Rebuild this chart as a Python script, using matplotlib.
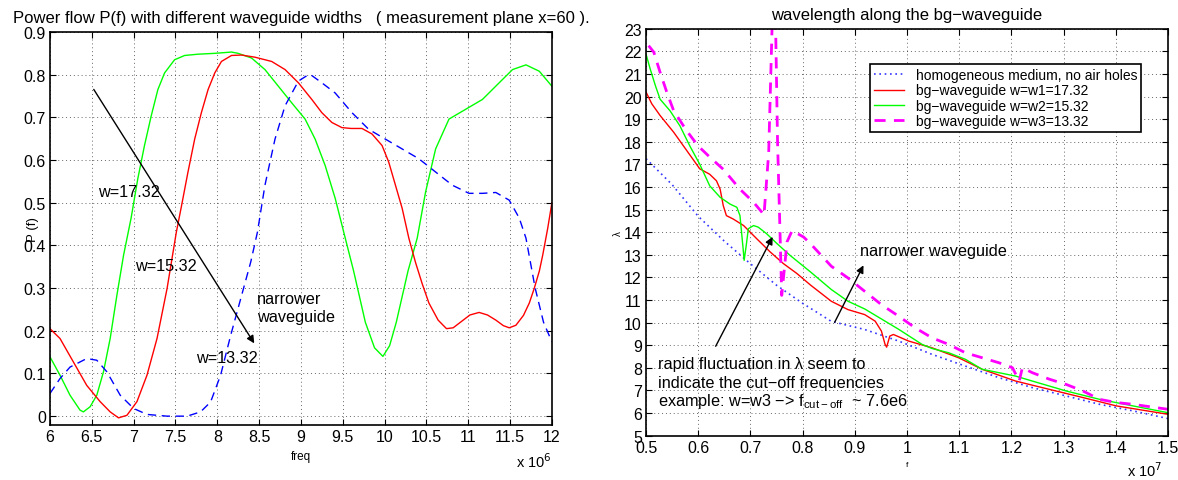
import matplotlib
matplotlib.use('Agg')
import matplotlib.pyplot as plt
import numpy as np
from matplotlib.ticker import FormatStrFormatter, MultipleLocator

# ---- left panel: power flow P(f), freq in units of 1e6 ----
red_f = [6.0, 6.12, 6.28, 6.44, 6.6, 6.72, 6.82, 6.92, 7.04, 7.16, 7.28, 7.4, 7.51, 7.57,
         7.65, 7.73, 7.81, 7.89, 7.97, 8.05, 8.17, 8.29, 8.45, 8.65, 8.81, 8.97, 9.13, 9.25,
         9.37, 9.49, 9.6, 9.73, 9.85, 9.97, 10.05, 10.13, 10.21, 10.29, 10.37, 10.45, 10.53,
         10.64, 10.74, 10.82, 10.92, 11.02, 11.13, 11.23, 11.33, 11.42, 11.49, 11.57, 11.66,
         11.73, 11.79, 11.85, 11.89, 11.95, 12.0]
red_p = [0.205, 0.182, 0.127, 0.072, 0.034, 0.01, -0.004, 0.002, 0.034, 0.096, 0.182, 0.299, 0.43, 0.49,
         0.572, 0.649, 0.711, 0.765, 0.804, 0.831, 0.845, 0.846, 0.841, 0.831, 0.812, 0.781, 0.742, 0.711,
         0.688, 0.676, 0.674, 0.674, 0.661, 0.634, 0.595, 0.541, 0.487, 0.417, 0.36, 0.31, 0.265,
         0.225, 0.205, 0.207, 0.222, 0.237, 0.243, 0.237, 0.225, 0.212, 0.207, 0.213, 0.236,
         0.265, 0.3, 0.34, 0.377, 0.44, 0.5]

green_f = [6.0, 6.12, 6.24, 6.36, 6.4, 6.48, 6.56, 6.64, 6.72, 6.8, 6.88, 6.97, 7.05, 7.13,
           7.21, 7.29, 7.37, 7.49, 7.61, 7.77, 7.97, 8.17, 8.25, 8.41, 8.57, 8.73, 8.89, 9.05,
           9.17, 9.29, 9.41, 9.53, 9.63, 9.77, 9.88, 9.98, 10.06, 10.14, 10.28, 10.39, 10.49,
           10.61, 10.77, 10.97, 11.17, 11.37, 11.53, 11.69, 11.85, 12.0]
green_p = [0.139, 0.096, 0.049, 0.014, 0.01, 0.022, 0.049, 0.104, 0.182, 0.283, 0.377, 0.464, 0.556, 0.634,
           0.703, 0.765, 0.804, 0.835, 0.845, 0.848, 0.85, 0.853, 0.85, 0.839, 0.812, 0.773, 0.734, 0.696,
           0.649, 0.587, 0.51, 0.417, 0.34, 0.22, 0.16, 0.14, 0.165, 0.22, 0.34, 0.417, 0.525,
           0.626, 0.696, 0.719, 0.742, 0.781, 0.812, 0.823, 0.808, 0.773]

blue_f = [6.0, 6.12, 6.24, 6.44, 6.56, 6.68, 6.84, 7.0, 7.16, 7.4, 7.64, 7.8, 7.92, 8.04,
          8.16, 8.28, 8.4, 8.48, 8.57, 8.69, 8.81, 8.97, 9.09, 9.13, 9.25, 9.41, 9.61, 9.81,
          10.01, 10.21, 10.41, 10.61, 10.81, 11.01, 11.17, 11.33, 11.49, 11.61, 11.69, 11.8,
          11.9, 12.0]
blue_p = [0.053, 0.088, 0.115, 0.135, 0.131, 0.104, 0.049, 0.018, 0.004, 0.0, 0.0, 0.01, 0.033, 0.096,
          0.189, 0.275, 0.361, 0.431, 0.541, 0.649, 0.727, 0.785, 0.8, 0.798, 0.781, 0.757, 0.711, 0.672,
          0.649, 0.626, 0.603, 0.572, 0.541, 0.522, 0.522, 0.524, 0.506, 0.464, 0.417, 0.3,
          0.22, 0.174]

# ---- right panel: wavelength lambda(f), f in units of 1e7 ----
hom_f = [0.5, 0.55, 0.6, 0.65, 0.7, 0.75, 0.8, 0.855, 0.919, 0.984, 1.048, 1.112, 1.176,
         1.24, 1.305, 1.369, 1.433, 1.5]
hom_l = [17.25, 16.1, 14.7, 13.6, 12.6, 11.65, 10.85, 10.05, 9.69, 9.18, 8.59, 8.07, 7.56,
         7.12, 6.75, 6.38, 6.09, 5.75]

w1_f = [0.5, 0.511, 0.527, 0.553, 0.578, 0.603, 0.622, 0.635, 0.642, 0.648, 0.654, 0.667,
        0.687, 0.712, 0.738, 0.763, 0.789, 0.815, 0.855, 0.887, 0.919, 0.939, 0.951, 0.958,
        0.961, 0.967, 0.974, 1.003, 1.048, 1.099, 1.144, 1.208, 1.273, 1.337, 1.401, 1.5]
w1_l = [20.2, 19.68, 19.16, 18.42, 17.61, 16.8, 16.56, 16.27, 15.9, 15.17, 14.73, 14.58,
        14.29, 13.71, 13.12, 12.61, 12.17, 11.66, 10.94, 10.57, 10.35, 10.06, 9.62, 9.03,
        8.91, 9.40, 9.47, 9.18, 8.88, 8.44, 7.93, 7.41, 7.04, 6.68, 6.31, 5.94]

w2_f = [0.5, 0.508, 0.518, 0.527, 0.546, 0.565, 0.584, 0.603, 0.622, 0.642, 0.661, 0.674,
        0.68, 0.683, 0.686, 0.688, 0.692, 0.696, 0.706, 0.715, 0.731, 0.751, 0.776, 0.815,
        0.855, 0.887, 0.919, 0.984, 1.029, 1.048, 1.08, 1.112, 1.144, 1.208, 1.24, 1.305,
        1.369, 1.433, 1.5]
w2_l = [21.88, 21.22, 20.48, 19.88, 19.37, 18.70, 17.81, 17.0, 16.05, 15.54, 15.24, 15.1,
        14.73, 14.0, 13.27, 12.75, 13.41, 14.15, 14.29, 14.22, 13.93, 13.49, 12.97, 12.24,
        11.46, 10.94, 10.6, 9.7, 9.03, 8.85, 8.66, 8.37, 7.93, 7.63, 7.41, 6.97,
        6.6, 6.31, 6.01]

w3_f = [0.505, 0.515, 0.527, 0.54, 0.553, 0.578, 0.6, 0.623, 0.648, 0.68, 0.706, 0.722,
        0.726, 0.735, 0.742, 0.745, 0.748, 0.752, 0.76, 0.767, 0.77, 0.78, 0.802, 0.815,
        0.855, 0.887, 0.919, 0.951, 0.984, 1.016, 1.048, 1.08, 1.112, 1.144, 1.176, 1.202,
        1.215, 1.221, 1.24, 1.273, 1.305, 1.337, 1.369, 1.401, 1.433, 1.5]
w3_l = [22.25, 21.96, 21.07, 20.18, 19.37, 18.48, 17.81, 17.30, 16.78, 15.9, 15.32, 14.88,
        14.75, 17.5, 23.5, 25.0, 23.5, 18.0, 11.2, 12.83, 13.56, 14.07, 13.78, 13.49,
        12.49, 11.97, 11.38, 10.79, 10.28, 9.76, 9.32, 9.03, 8.66, 8.44, 8.22, 8.0,
        7.41, 8.0, 7.78, 7.49, 7.26, 6.97, 6.6, 6.46, 6.38, 6.16]

legend_labels = ['homogeneous medium, no air holes',
                 'bg\u2212waveguide w=w1=17.32',
                 'bg\u2212waveguide w=w2=15.32',
                 'bg\u2212waveguide w=w3=13.32']

plt.rcParams['font.family'] = ['Liberation Sans', 'DejaVu Sans']
plt.rcParams['font.size'] = 11
plt.rcParams['axes.unicode_minus'] = True


def style_axes(ax):
    ax.tick_params(direction='in', top=True, right=True, length=4, labelsize=11.5, width=0.8,
                   pad=3)
    for s in ax.spines.values():
        s.set_linewidth(1.2)
    ax.grid(True, linestyle=(0, (1, 3)), color='k', linewidth=0.7, alpha=0.6)


fig = plt.figure(figsize=(11.78, 4.81), dpi=100)

# left
ax1 = fig.add_axes([0.0424, 0.115, 0.4261, 0.8164])
ax1.plot(green_f, green_p, color='#00ff00', lw=1.0)
ax1.plot(red_f, red_p, color='#ff0000', lw=1.0)
ax1.plot(blue_f, blue_p, color='#0000ff', lw=1.0, dashes=(6, 4))
ax1.set_xlim(6, 12)
ax1.set_ylim(-0.02, 0.9)
ax1.xaxis.set_major_locator(MultipleLocator(0.5))
ax1.yaxis.set_major_locator(MultipleLocator(0.1))
ax1.xaxis.set_major_formatter(FormatStrFormatter('%g'))
ax1.yaxis.set_major_formatter(FormatStrFormatter('%g'))
style_axes(ax1)
ax1.set_title('Power flow P(f) with different waveguide widths   ( measurement plane x=60 ).',
              fontsize=12, pad=7)
ax1.set_xlabel('freq', fontsize=8.5)
ax1.xaxis.set_label_coords(0.5, -0.065)
ax1.set_ylabel('P (f)', fontsize=9.5)
ax1.yaxis.set_label_coords(-0.022, 0.5)
ax1.text(1.0, -0.068, r'x 10$^6$', transform=ax1.transAxes, ha='right', va='top', fontsize=10.5)

ax1.annotate('', xy=(8.46, 0.165), xytext=(6.506, 0.771),
             arrowprops=dict(arrowstyle='-|>', color='k', lw=1.0, mutation_scale=11))
ax1.text(6.57, 0.526, 'w=17.32', fontsize=11.7, va='center')
ax1.text(7.02, 0.352, 'w=15.32', fontsize=11.7, va='center')
ax1.text(7.75, 0.137, 'w=13.32', fontsize=11.7, va='center')
ax1.text(8.48, 0.254, 'narrower\nwaveguide', fontsize=11.7, va='center', linespacing=1.25)

# right
ax2 = fig.add_axes([0.5484, 0.0925, 0.4431, 0.8457])
l0, = ax2.plot(hom_f, hom_l, color='#3333ff', lw=1.2, linestyle=(0, (1, 2.2)))
l1, = ax2.plot(w1_f, w1_l, color='#ff0000', lw=1.0)
l2, = ax2.plot(w2_f, w2_l, color='#00ff00', lw=1.0)
l3, = ax2.plot(w3_f, w3_l, color='#ff00ff', lw=2.0, dashes=(4, 3))
ax2.set_xlim(0.5, 1.5)
ax2.set_ylim(5, 23)
ax2.xaxis.set_major_locator(MultipleLocator(0.1))
ax2.yaxis.set_major_locator(MultipleLocator(1))
ax2.xaxis.set_major_formatter(FormatStrFormatter('%g'))
ax2.yaxis.set_major_formatter(FormatStrFormatter('%g'))
style_axes(ax2)
ax2.set_title('wavelength along the bg\u2212waveguide', fontsize=12, pad=7)
ax2.set_xlabel('f', fontsize=6)
ax2.xaxis.set_label_coords(0.5, -0.062)
ax2.set_ylabel('\u03bb', fontsize=7)
ax2.yaxis.set_label_coords(-0.045, 0.5)
ax2.text(0.99, -0.06, r'x 10$^7$', transform=ax2.transAxes, ha='right', va='top', fontsize=10.5)

leg = ax2.legend([l0, l1, l2, l3], legend_labels, loc='upper right',
                 bbox_to_anchor=(0.962, 0.93), fancybox=False, framealpha=1,
                 edgecolor='k', fontsize=10, handlelength=2.2, borderpad=0.3,
                 labelspacing=0.08, handletextpad=0.8)
leg.get_frame().set_linewidth(1.2)

ax2.annotate('', xy=(0.745, 13.9), xytext=(0.631, 8.84),
             arrowprops=dict(arrowstyle='-|>', color='k', lw=1.0, mutation_scale=11))
ax2.annotate('', xy=(0.919, 12.64), xytext=(0.859, 9.9),
             arrowprops=dict(arrowstyle='-|>', color='k', lw=1.0, mutation_scale=11))
ax2.text(0.909, 13.2, 'narrower waveguide', fontsize=11.7, va='center')
ax2.text(0.523, 8.2, 'rapid fluctuation in \u03bb seem to', fontsize=11.7, va='center')
ax2.text(0.523, 7.35, 'indicate the cut\u2212off frequencies', fontsize=11.7, va='center')
ax2.text(0.523, 6.55, 'example: w=w3 \u2212> f$_{\\mathregular{cut\u2212off}}$  ~ 7.6e6',
         fontsize=11.7, va='center')

fig.savefig('out.png', dpi=100)
